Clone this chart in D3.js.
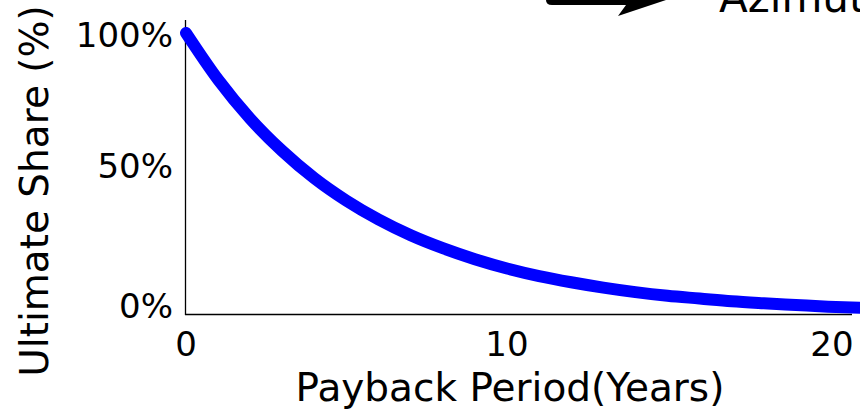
<!DOCTYPE html>
<html>
<head>
<meta charset="utf-8">
<script src="https://cdn.jsdelivr.net/npm/d3@7"></script>
<style>
  body { margin: 0; background: #fff; }
  svg { display: block; font-family: "DejaVu Sans", sans-serif; }
</style>
</head>
<body>
<svg id="chart" width="860" height="411"></svg>
<script>
// payback period (years) vs ultimate share (%)
var years = [0, 1, 2, 3, 4, 5, 6, 7, 8, 9, 10, 11, 12, 13, 14, 15, 16, 17, 18, 19, 20, 21, 22];
var share = [100, 83.4, 69.5, 58, 48.3, 40.3, 33.6, 28, 23.4, 19.5, 16.2, 13.5, 11.3, 9.4, 7.8, 6.5, 5.5, 4.5, 3.8, 3.2, 2.6, 2.2, 1.9];
var xTicks = [0, 10, 20];
var yTicks = [0, 50, 100];

var svg = d3.select('#chart');
var xs = d3.scaleLinear().domain([0, 20]).range([186, 828]);
var ys = d3.scaleLinear().domain([0, 100]).range([314, 33]);

// axis lines
svg.append('line')
    .attr('x1', 185).attr('x2', 852)
    .attr('y1', 314.5).attr('y2', 314.5)
    .attr('stroke', '#000').attr('stroke-width', 1.3);
svg.append('line')
    .attr('x1', 185.5).attr('x2', 185.5)
    .attr('y1', 20).attr('y2', 315)
    .attr('stroke', '#000').attr('stroke-width', 1.3);

// x tick labels
svg.selectAll('.xt').data(xTicks).enter().append('text')
    .attr('class', 'xt')
    .attr('x', function (d) { return xs(d) + (d == 20 ? 4 : 0); })
    .attr('y', 356)
    .attr('text-anchor', 'middle')
    .attr('font-size', 34)
    .text(function (d) { return d; });

// y tick labels (nudged like the original)
svg.selectAll('.yt').data(yTicks).enter().append('text')
    .attr('class', 'yt')
    .attr('x', 173)
    .attr('y', function (d) { return ys(d) + (d == 100 ? 14 : 4); })
    .attr('text-anchor', 'end')
    .attr('font-size', 34)
    .text(function (d) { return d + '%'; });

// axis titles
svg.append('text')
    .attr('x', 510).attr('y', 401)
    .attr('text-anchor', 'middle')
    .attr('font-size', 39)
    .text('Payback Period(Years)');
svg.append('text')
    .attr('transform', 'translate(48,191) rotate(-90)')
    .attr('text-anchor', 'middle')
    .attr('font-size', 39)
    .text('Ultimate Share (%)');

// the curve
var line = d3.line()
    .x(function (d, i) { return xs(years[i]); })
    .y(function (d) { return ys(d); })
    .curve(d3.curveMonotoneX);
svg.append('path')
    .datum(share)
    .attr('d', line)
    .attr('fill', 'none')
    .attr('stroke', '#0000ff')
    .attr('stroke-width', 12)
    .attr('stroke-linecap', 'round')
    .attr('stroke-linejoin', 'round');

// clipped annotation at top right
svg.append('path')
    .attr('d', 'M552,-6 L628,-6 L622,-14 L672,-2 L618,16 L626,5 L552,5 Q546,5 546,0 Q546,-6 552,-6 Z')
    .attr('fill', '#000');
svg.append('text')
    .attr('x', 719).attr('y', 12)
    .attr('font-size', 42)
    .text('Azimuth');
</script>
</body>
</html>
